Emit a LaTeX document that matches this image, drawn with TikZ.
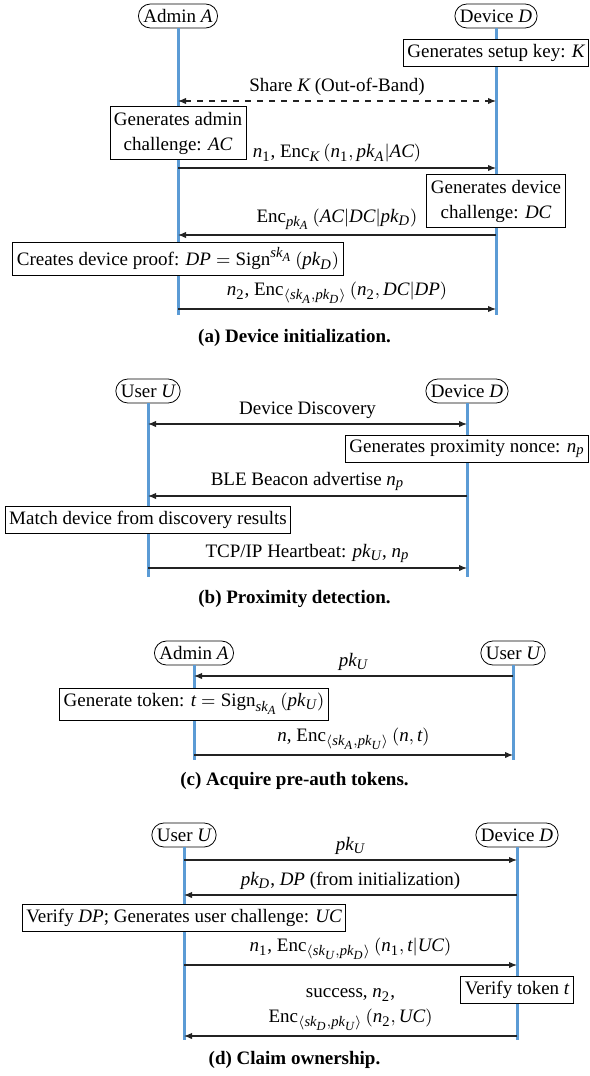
\documentclass[tikz,border=0pt]{standalone}
\usepackage{amsmath,amssymb}
\usepackage{mathspec}
\setmainfont{Liberation Serif}
\setmathsfont(Digits,Latin){Liberation Serif}
\DeclareMathSizes{9.5}{9.5}{7.3}{6.2}
\usetikzlibrary{arrows.meta,positioning}
\definecolor{LifeBlue}{RGB}{91,155,213}
\definecolor{MsgGray}{RGB}{35,35,35}
\newcommand{\Enc}{\text{Enc}}
\newcommand{\Sign}{\text{Sign}}
\newcommand{\msgarrow}[6]{%
  \draw[msg,#6] (#2 |- 0,#4) -- node[lbl] (#1) {#5} (#3 |- 0,#4);}

\begin{document}
\begin{tikzpicture}[x=0.5pt,y=-0.5pt,
    font=\fontsize{9.5}{12.5}\selectfont,
    >={Latex[length=4pt,width=3.2pt]},
    actor/.style={draw,rounded corners=6pt,inner xsep=2.5pt,inner ysep=1.5pt,minimum height=12pt},
    stepbox/.style={draw,fill=white,inner xsep=2pt,inner ysep=2.5pt,align=center},
    life/.style={LifeBlue,line width=1.5pt},
    msg/.style={MsgGray,line width=0.55pt,->},
    lbl/.style={above,inner sep=2.5pt,text=black,align=center},
    caption/.style={font=\fontsize{9.5}{12}\selectfont\bfseries}]
  \useasboundingbox (0,0) rectangle (589,1076);

  % (a) device initialization
  \node[actor] (initA) at (178,16) {Admin $A$};
  \node[actor] (initD) at (496,16) {Device $D$};
  \draw[life] (initA.south) -- (initA |- 0,315);
  \draw[life] (initD.south) -- (initD |- 0,315);
  \node[stepbox] (setupkey) at (initD |- 0,53) {Generates setup key: $K$};
  \msgarrow{share}{initA}{initD}{101}{Share $K$ (Out-of-Band)}{dashed,<->}
  \node[stepbox] (adminch) at (initA |- 0,133) {Generates admin\\challenge: $AC$};
  \msgarrow{ma1}{initA}{initD}{168}{$n_1$, $\Enc_K\,(n_1, pk_A|AC)$}{}
  \node[stepbox] (devch) at (initD |- 0,201) {Generates device\\challenge: $DC$};
  \msgarrow{ma2}{initD}{initA}{235}{$\Enc_{pk_A}\,(AC|DC|pk_D)$}{}
  \node[stepbox] (proof) at (initA |- 0,259) {Creates device proof: $DP = \Sign^{sk_A}\,(pk_D)$};
  \msgarrow{ma3}{initA}{initD}{309}{$n_2$, $\Enc_{\langle sk_A, pk_D\rangle}\,(n_2, DC|DP)$}{}
  \node[caption] (capA) at (294.5,338) {(a) Device initialization.};

  % (b) proximity detection
  \node[actor] (proxU) at (148,391) {User $U$};
  \node[actor] (proxD) at (467,391) {Device $D$};
  \draw[life] (proxU.south) -- (proxU |- 0,577);
  \draw[life] (proxD.south) -- (proxD |- 0,577);
  \msgarrow{discover}{proxU}{proxD}{424}{Device Discovery}{<->}
  \node[stepbox] (nonce) at (proxD |- 0,449) {Generates proximity nonce: $n_p$};
  \msgarrow{mb1}{proxD}{proxU}{496}{BLE Beacon advertise $n_p$}{}
  \node[stepbox] (match) at (proxU |- 0,520) {Match device from discovery results};
  \msgarrow{mb2}{proxU}{proxD}{568}{TCP/IP Heartbeat: $pk_U$, $n_p$}{}
  \node[caption] (capB) at (294.5,599) {(b) Proximity detection.};

  % (c) pre-auth tokens
  \node[actor] (tokA) at (194,653) {Admin $A$};
  \node[actor] (tokU) at (513,653) {User $U$};
  \draw[life] (tokA.south) -- (tokA |- 0,760);
  \draw[life] (tokU.south) -- (tokU |- 0,760);
  \msgarrow{mc1}{tokU}{tokA}{676}{$pk_U$}{}
  \node[stepbox] (gentoken) at (tokA |- 0,704) {Generate token: $t = \Sign_{sk_A}\,(pk_U)$};
  \msgarrow{mc2}{tokA}{tokU}{755}{$n$, $\Enc_{\langle sk_A, pk_U\rangle}\,(n, t)$}{}
  \node[caption] (capC) at (294.5,781) {(c) Acquire pre-auth tokens.};

  % (d) claim ownership
  \node[actor] (claimU) at (184,835) {User $U$};
  \node[actor] (claimD) at (517,835) {Device $D$};
  \draw[life] (claimU.south) -- (claimU |- 0,1040);
  \draw[life] (claimD.south) -- (claimD |- 0,1040);
  \msgarrow{md1}{claimU}{claimD}{860}{$pk_U$}{}
  \msgarrow{md2}{claimD}{claimU}{895}{$pk_D$, $DP$ (from initialization)}{}
  \node[stepbox] (verifydp) at (claimU |- 0,918) {Verify $DP$; Generates user challenge: $UC$};
  \msgarrow{md3}{claimU}{claimD}{965}{$n_1$, $\Enc_{\langle sk_U, pk_D\rangle}\,(n_1, t|UC)$}{}
  \node[stepbox] (verifytok) at (claimD |- 0,990) {Verify token $t$};
  \msgarrow{md4}{claimD}{claimU}{1036}{success, $n_2$,\\$\Enc_{\langle sk_D, pk_U\rangle}\,(n_2, UC)$}{}
  \node[caption] (capD) at (294.5,1060) {(d) Claim ownership.};
\end{tikzpicture}
\end{document}
